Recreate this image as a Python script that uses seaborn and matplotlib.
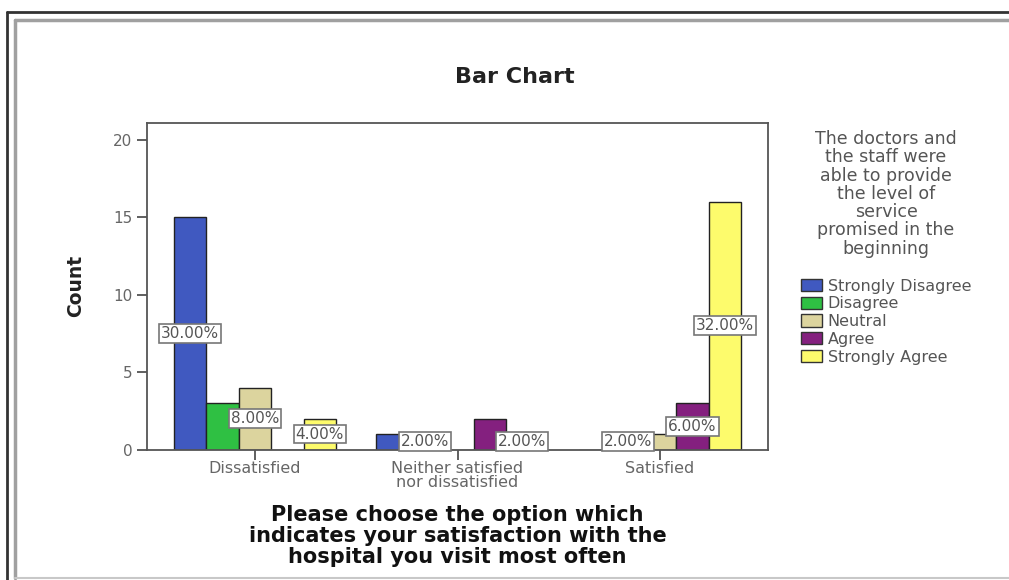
import matplotlib
matplotlib.use("Agg")
import matplotlib.pyplot as plt
from matplotlib.lines import Line2D
from matplotlib.patches import Patch
import pandas as pd
import seaborn as sns

# satisfaction categories on the x axis
categories = ["Dissatisfied", "Neither satisfied\nnor dissatisfied", "Satisfied"]
# agreement levels (legend)
levels = ["Strongly Disagree", "Disagree", "Neutral", "Agree", "Strongly Agree"]
colors = ["#4059c0", "#2fc043", "#dcd49e", "#84207f", "#fdfb6c"]

# counts per level, one value per category
strongly_disagree = [15, 1, 0]
disagree = [3, 1, 1]
neutral = [4, 0, 1]
agree = [0, 2, 3]
strongly_agree = [2, 1, 16]

# bars whose percentage label SPSS shows (category index, level)
shown_labels = [(0, "Strongly Disagree"), (0, "Neutral"), (0, "Strongly Agree"),
                (1, "Disagree"), (1, "Strongly Agree"),
                (2, "Disagree"), (2, "Agree"), (2, "Strongly Agree")]

legend_title = ("The doctors and\nthe staff were\nable to provide\nthe level of\n"
                "service\npromised in the\nbeginning")
xlabel = ("Please choose the option which\nindicates your satisfaction with the\n"
          "hospital you visit most often")

counts = [strongly_disagree, disagree, neutral, agree, strongly_agree]
rows = []
for lev, vals in zip(levels, counts):
    for cat, v in zip(categories, vals):
        rows.append({"category": cat, "level": lev, "count": v})
df = pd.DataFrame(rows)
total = df["count"].sum()

sns.set_theme(style="white")
plt.rcParams["font.family"] = ["DejaVu Sans"]

fig = plt.figure(figsize=(10.09, 5.8), dpi=100)
ax = fig.add_axes([147 / 1009, 1 - 449.5 / 580, 621 / 1009, 326.5 / 580])

sns.barplot(data=df, x="category", y="count", hue="level", order=categories,
            hue_order=levels, palette=colors, width=0.8, saturation=1,
            edgecolor="#222222", linewidth=1.0, ax=ax, legend=False)

ax.set_xlim(-0.533, 2.533)
ax.set_ylim(0, 21.1)
ax.set_yticks([0, 5, 10, 15, 20])

# percentage labels at mid-height of the bars
for lev, cont in zip(levels, ax.containers):
    for bar in cont:
        xc = bar.get_x() + bar.get_width() / 2
        ci = int(round(xc))
        if (ci, lev) not in shown_labels:
            continue
        h = bar.get_height()
        ax.text(xc, h / 2, f"{h / total * 100:.2f}%", ha="center", va="center",
                fontsize=11, color="#555555", zorder=5,
                bbox=dict(boxstyle="square,pad=0.12", fc="white", ec="#777777", lw=1.2))

for s in ax.spines.values():
    s.set_visible(True)
    s.set_color("#555555")
    s.set_linewidth(1.3)

ax.tick_params(axis="both", which="both", direction="out", length=7, width=1.2,
               color="#444444", labelcolor="#666666", labelsize=11,
               left=True, bottom=True)
ax.tick_params(axis="x", labelsize=11.5, pad=1)
for t in ax.get_xticklabels():
    t.set_linespacing(0.95)
ax.set_ylabel("Count", fontsize=13.5, fontweight="bold", color="#222222", labelpad=20)
ax.set_xlabel(xlabel, fontsize=15, fontweight="bold", color="#111111",
              labelpad=11, linespacing=1.05)

fig.text(515 / 1009, 1 - 77 / 580, "Bar Chart", ha="center", va="center",
         fontsize=16, fontweight="bold", color="#222222")

handles = [Patch(facecolor=c, edgecolor="#333333", lw=1.0) for c in colors]
leg = fig.legend(handles, levels, title=legend_title + "\n", loc="upper center",
                 bbox_to_anchor=(886 / 1009, 1 - 130 / 580), frameon=False,
                 fontsize=11.5, title_fontsize=12.5, labelspacing=0.17,
                 handlelength=1.35, handleheight=0.8, handletextpad=0.35,
                 borderpad=0, borderaxespad=0)
leg.get_title().set_multialignment("center")
leg.get_title().set_color("#555555")
leg.get_title().set_linespacing(1.02)
for t in leg.get_texts():
    t.set_color("#555555")

# outer frame of the SPSS output window
W, H = 1009, 580
def fline(x0, y0, x1, y1, **kw):
    fig.add_artist(Line2D([x0 / W, x1 / W], [1 - y0 / H, 1 - y1 / H],
                          transform=fig.transFigure, **kw))
fline(7, 11.5, W, 11.5, color="#333333", lw=2)
fline(7, 11.5, 7, H, color="#333333", lw=2)
fline(14.5, 19.5, W, 19.5, color="#a0a0a0", lw=2.5)
fline(14.5, 19.5, 14.5, 577.5, color="#a0a0a0", lw=2.5)
fline(14.5, 577.5, W, 577.5, color="#c8c8c8", lw=1.5)

fig.savefig("out.png", dpi=100)
